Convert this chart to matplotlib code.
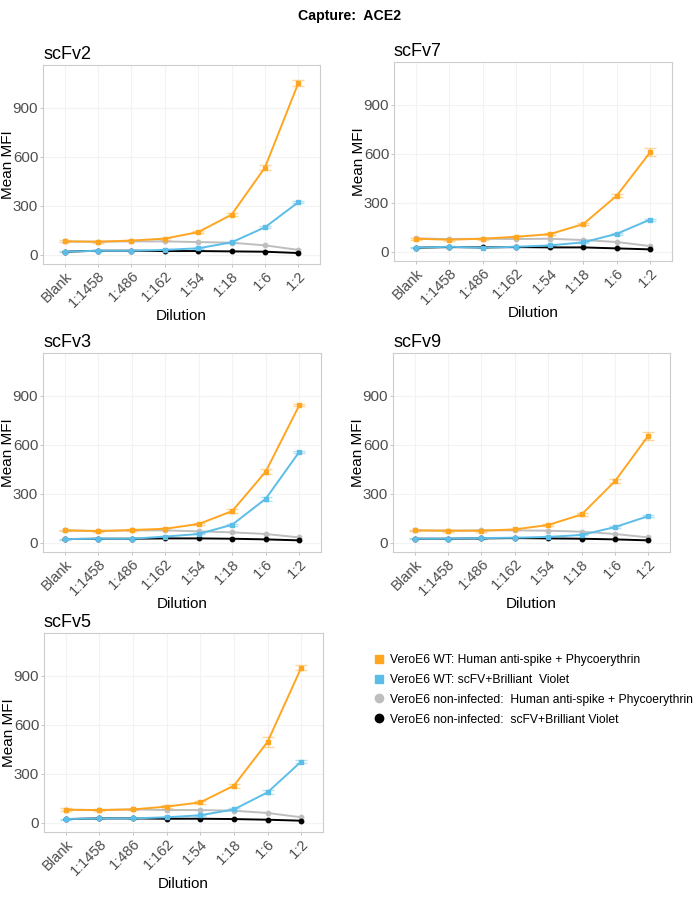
import matplotlib.pyplot as plt
from matplotlib.lines import Line2D

plt.rcParams['font.family'] = ['Liberation Sans', 'DejaVu Sans']

dilutions = ["Blank", "1:1458", "1:486", "1:162", "1:54", "1:18", "1:6", "1:2"]

series_names = [
    "VeroE6 WT: Human anti-spike + Phycoerythrin",
    "VeroE6 WT: scFV+Brilliant  Violet",
    "VeroE6 non-infected:  Human anti-spike + Phycoerythrin",
    "VeroE6 non-infected:  scFV+Brilliant Violet",
]
colors = ["#FFA520", "#5BBDE8", "#BEBEBE", "#000000"]
markers = ["s", "s", "o", "o"]

# mean MFI per panel, one list per series (orange, blue, grey, black)
scfv2 = [
    [83, 81, 88, 100, 140, 246, 534, 1049],
    [20, 26, 26, 31, 41, 77, 169, 322],
    [83, 81, 83, 83, 79, 75, 59, 31],
    [20, 26, 26, 24, 24, 22, 20, 12],
]
scfv2_err = [
    [6, 5, 5, 6, 6, 8, 15, 20],
    [3, 3, 3, 3, 3, 4, 6, 6],
]
scfv7 = [
    [81, 75, 81, 93, 109, 170, 344, 609],
    [26, 32, 26, 32, 40, 59, 111, 198],
    [83, 79, 81, 79, 81, 73, 61, 36],
    [26, 30, 28, 30, 28, 28, 22, 16],
]
scfv7_err = [
    [5, 5, 5, 5, 5, 8, 8, 25],
    [3, 3, 3, 3, 3, 3, 5, 6],
]
scfv3 = [
    [77, 73, 79, 87, 116, 195, 436, 840],
    [24, 26, 26, 39, 55, 112, 270, 556],
    [77, 73, 77, 77, 71, 65, 55, 34],
    [24, 26, 26, 28, 28, 26, 22, 16],
]
scfv3_err = [
    [5, 5, 5, 5, 6, 10, 15, 6],
    [3, 3, 3, 3, 3, 6, 12, 8],
]
scfv9 = [
    [77, 75, 75, 83, 110, 174, 377, 655],
    [26, 26, 30, 32, 37, 49, 97, 164],
    [77, 75, 77, 77, 75, 69, 55, 34],
    [26, 26, 28, 30, 28, 26, 22, 16],
]
scfv9_err = [
    [5, 5, 5, 5, 6, 8, 12, 25],
    [3, 3, 3, 3, 3, 3, 5, 6],
]
scfv5 = [
    [81, 79, 83, 100, 126, 228, 495, 947],
    [24, 28, 28, 35, 47, 83, 187, 375],
    [81, 79, 83, 79, 79, 75, 61, 35],
    [24, 28, 28, 26, 26, 24, 20, 14],
]
scfv5_err = [
    [8, 5, 5, 8, 8, 12, 30, 15],
    [3, 3, 3, 3, 4, 6, 12, 10],
]

panels = [
    ("scFv2", scfv2, scfv2_err, (43, 65, 320, 264)),
    ("scFv7", scfv7, scfv7_err, (394, 62, 672, 261)),
    ("scFv3", scfv3, scfv3_err, (43, 353, 321, 552)),
    ("scFv9", scfv9, scfv9_err, (393, 353, 670, 552)),
    ("scFv5", scfv5, scfv5_err, (44, 633, 323, 832)),
]

W, H = 700, 899
fig = plt.figure(figsize=(7, 8.99), dpi=100)
fig.text(0.5, 1 - 16 / H, "Capture:  ACE2", ha="center", va="center",
         fontsize=10.2, fontweight="bold")

x = list(range(1, len(dilutions) + 1))
for name, vals, errs, (l, t, r, b) in panels:
    ax = fig.add_axes([l / W, 1 - b / H, (r - l) / W, (b - t) / H])
    for i in [2, 3, 1, 0]:
        ax.plot(x, vals[i], color=colors[i], lw=1.4, marker=markers[i],
                ms=3.2, zorder=3 + (i == 0))
    for i in [0, 1]:
        ax.errorbar(x, vals[i], yerr=errs[i], fmt="none", ecolor=colors[i],
                    alpha=0.45, capsize=4.5, elinewidth=1, capthick=1, zorder=2)
    ax.set_xlim(0.35, 8.65)
    ax.set_ylim(-55, 1160)
    ax.set_yticks([0, 300, 600, 900])
    ax.set_xticks(x)
    ax.set_xticklabels(dilutions, rotation=45, ha="right", rotation_mode="anchor")
    ax.tick_params(colors="#4D4D4D", length=2, width=0.6,
                   color="#BBBBBB", pad=1.5)
    ax.tick_params(axis="x", labelsize=10.5)
    ax.tick_params(axis="y", labelsize=10.8)
    ax.grid(True, color="#F3F3F3", lw=0.8)
    ax.set_axisbelow(True)
    for s in ax.spines.values():
        s.set_color("#CCCCCC")
        s.set_linewidth(0.8)
    ax.set_xlabel("Dilution", fontsize=11)
    ax.set_ylabel("Mean MFI", fontsize=11)
    ax.xaxis.set_label_coords(0.5, -0.228)
    ax.yaxis.set_label_coords(-0.102, 0.5)
    ax.set_title(name, loc="left", fontsize=13, pad=4)

handles = [Line2D([], [], color=colors[i], marker=markers[i], ls="none", ms=6)
           for i in range(4)]
fig.legend(handles, series_names, loc="upper left",
           bbox_to_anchor=(374 / W, 1 - 654 / H), frameon=False,
           fontsize=8.7, handlelength=0.8, handletextpad=0.5, labelspacing=0.65,
           borderaxespad=0, borderpad=0)

fig.savefig("out.png", dpi=100)
